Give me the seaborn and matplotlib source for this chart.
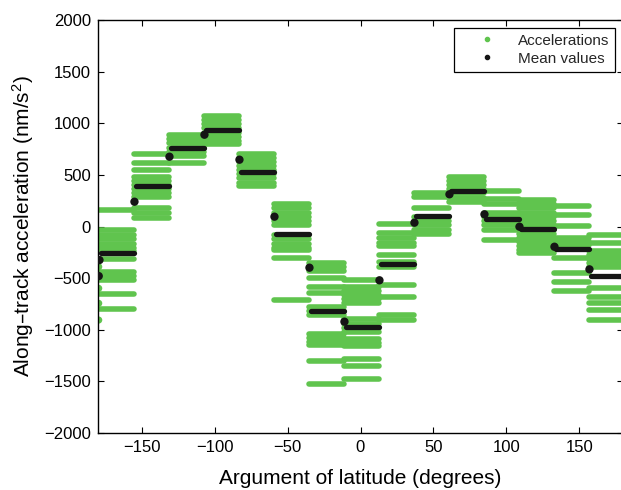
import numpy as np
import pandas as pd
import matplotlib
matplotlib.use("Agg")
import matplotlib.pyplot as plt
from matplotlib.lines import Line2D
import seaborn as sns

# 15 bins of 24 degrees in argument of latitude
bin_starts = [-179, -155, -131, -107, -83, -59, -35, -11, 13, 37, 61, 85, 109, 133, 157]
bin_width = 24

# acceleration levels (nm/s^2) seen inside each bin
levels = [
    [160, -35, -85, -125, -165, -205, -235, -318, -440, -480, -515, -657, -799],
    [700, 618, 547, 480, 440, 400, 360, 320, 285, 175, 135, 85],
    [885, 845, 805, 765, 725, 685, 618],
    [1068, 1030, 990, 950, 910, 870, 830, 796],
    [705, 665, 625, 585, 545, 505, 465, 425, 395],
    [220, 175, 130, 90, 50, 15, -85, -125, -165, -205, -228, -308, -712],
    [-350, -390, -430, -496, -590, -645, -780, -820, -855, -1040, -1080, -1120, -1145, -1300, -1525],
    [-518, -585, -625, -665, -705, -745, -900, -940, -980, -1020, -1085, -1125, -1160, -1280, -1355, -1480],
    [24, -60, -115, -155, -190, -276, -340, -389, -567, -680, -857, -906],
    [328, 289, 176, 90, 50, 10, -30, -70],
    [476, 440, 400, 360, 320, 280, 240],
    [347, 270, 215, 128, 90, 50, 10, -35, -131],
    [255, 215, 176, 128, 90, 50, 10, -30, -70, -110, -150, -190, -230, -255],
    [202, 111, 8, -114, -146, -179, -308, -453, -540, -625],
    [-82, -157, -235, -275, -315, -355, -395, -599, -683, -744, -812, -906],
]

# mean of each bin and the first (transition) mean sample at the bin start
mean_values = [-260, 393, 757, 932, 531, -76, -815, -970, -363, 105, 344, 70, -21, -221, -479]
start_values = [-325, 240, 676, 889, 647, 95, -399, -922, -521, 37, 312, 118, -2, -196, -415]

# samples at -180 that wrap around from the last bin
wrap_levels = [-390, -599, -744, -906]
wrap_mean = -480

green = "#60c44e"
black = "#151515"

rows = []
for start, lv in zip(bin_starts, levels):
    for v in lv:
        rows.append({"x0": start, "x1": start + bin_width, "acc": v})
seg = pd.DataFrame(rows)

means = pd.DataFrame({
    "x0": bin_starts,
    "x1": [s + bin_width for s in bin_starts],
    "mean": mean_values,
    "first": start_values,
})

sns.set_theme(style="white")
plt.rcParams["font.family"] = ["Liberation Sans", "DejaVu Sans"]
plt.rcParams["mathtext.default"] = "regular"

fig = plt.figure(figsize=(6.21, 4.9), dpi=100)
ax = fig.add_axes([98 / 621, 57 / 490, 525 / 621, 413 / 490])

lc = ax.hlines(seg["acc"], seg["x0"], seg["x1"], color=green, linewidth=4.0, zorder=2)
lc.set_capstyle("round")
sns.scatterplot(x=[-179.5] * len(wrap_levels), y=wrap_levels, color=green, s=26,
                edgecolor="none", ax=ax, zorder=2, legend=False)

mc = ax.hlines(means["mean"], means["x0"] + 1.2, means["x1"], color=black, linewidth=3.8, zorder=3)
mc.set_capstyle("round")
sns.scatterplot(data=means, x="x0", y="first", color=black, s=36, edgecolor="none",
                ax=ax, zorder=4, legend=False)
sns.scatterplot(x=[-179.5], y=[wrap_mean], color=black, s=36, edgecolor="none",
                ax=ax, zorder=4, legend=False)

ax.set_xlim(-180, 180)
ax.set_ylim(-2000, 2000)
ax.set_xticks([-150, -100, -50, 0, 50, 100, 150])
ax.set_yticks(np.arange(-2000, 2001, 500))
ax.tick_params(direction="in", length=4, width=0.8, colors="black", labelsize=12,
               top=True, right=True, bottom=True, left=True, pad=5)
for sp in ax.spines.values():
    sp.set_color("black")
    sp.set_linewidth(1.0)

ax.set_xlabel("Argument of latitude (degrees)", fontsize=15, labelpad=10, color="black")
ax.set_ylabel("Along–track acceleration (nm/s$^2$)", fontsize=15, labelpad=6, color="black")

handles = [
    Line2D([], [], linestyle="none", marker="o", markersize=3, color=green),
    Line2D([], [], linestyle="none", marker="o", markersize=3, color=black),
]
leg = ax.legend(handles, ["Accelerations", "Mean values"], loc="upper right",
                fontsize=11, frameon=True, fancybox=False, framealpha=1,
                edgecolor="black", borderpad=0.4, handlelength=3.6, handletextpad=0.2,
                labelspacing=0.25, borderaxespad=0.5)
leg.get_frame().set_linewidth(0.9)

fig.savefig("out.png", dpi=100)
